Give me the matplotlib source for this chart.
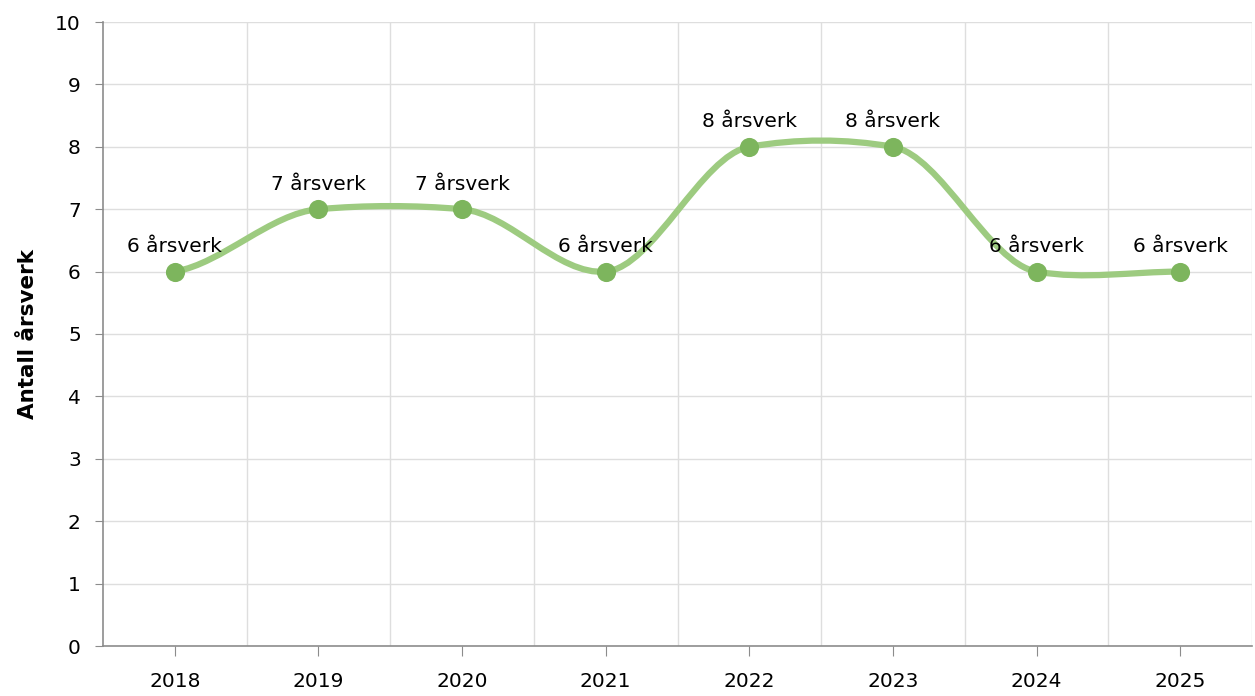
import matplotlib.pyplot as plt
import numpy as np
from matplotlib.path import Path
from matplotlib.patches import PathPatch

# data
years = ["2018", "2019", "2020", "2021", "2022", "2023", "2024", "2025"]
aarsverk = [6, 7, 7, 6, 8, 8, 6, 6]
labels = ["%d årsverk" % v for v in aarsverk]

plt.rcParams['font.family'] = ['DejaVu Sans']

fig = plt.figure(figsize=(12.55, 6.96), dpi=100)
ax = fig.add_axes([103 / 1255, 1 - 646 / 696, (1252 - 103) / 1255, (646 - 22) / 696])

x = np.arange(len(years))
y = np.array(aarsverk, dtype=float)

# smoothed line: cubic hermite with soft tangents, drawn as bezier path
m = np.zeros(len(y))
m[1:-1] = 0.2 * (y[2:] - y[:-2])
m[0] = 0.4 * (y[1] - y[0])
m[-1] = 0.0
verts = [(x[0], y[0])]
codes = [Path.MOVETO]
for i in range(len(x) - 1):
    verts += [(x[i] + 1 / 3, y[i] + m[i] / 3), (x[i + 1] - 1 / 3, y[i + 1] - m[i + 1] / 3), (x[i + 1], y[i + 1])]
    codes += [Path.CURVE4] * 3
ax.add_patch(PathPatch(Path(verts, codes), facecolor='none', edgecolor='#9dcb80', lw=4.5,
                       capstyle='round', zorder=3))
ax.scatter(x, y, s=190, color='#7db55d', zorder=4, linewidths=0)

for xi, yi, lab in zip(x, y, labels):
    ax.annotate(lab, (xi, yi), xytext=(0, 18), textcoords='offset points', ha='center', va='center',
                fontsize=14.5, color='black', zorder=5)

ax.set_xlim(-0.5, len(years) - 0.5)
ax.set_ylim(0, 10)
ax.set_yticks(range(0, 11))
ax.set_xticks(x)
ax.set_xticklabels(years)
ax.set_xticks(np.arange(0.5, len(years), 1), minor=True)

ax.grid(True, which='minor', axis='x', color='#dedede', lw=1)
ax.grid(True, which='major', axis='y', color='#dedede', lw=1)
ax.grid(False, which='major', axis='x')
ax.set_axisbelow(True)

for s in ['top', 'right']:
    ax.spines[s].set_visible(False)
for s in ['left', 'bottom']:
    ax.spines[s].set_color('#8c8c8c')
    ax.spines[s].set_linewidth(1.2)

ax.tick_params(axis='x', which='major', length=7, color='#8c8c8c', pad=12, labelsize=14.5)
ax.tick_params(axis='x', which='minor', length=0)
ax.tick_params(axis='y', length=6, color='#8c8c8c', pad=10, labelsize=14.5)

ax.set_ylabel("Antall årsverk", fontsize=15.5, fontweight='bold', labelpad=12)

fig.savefig("out.png", dpi=100)
